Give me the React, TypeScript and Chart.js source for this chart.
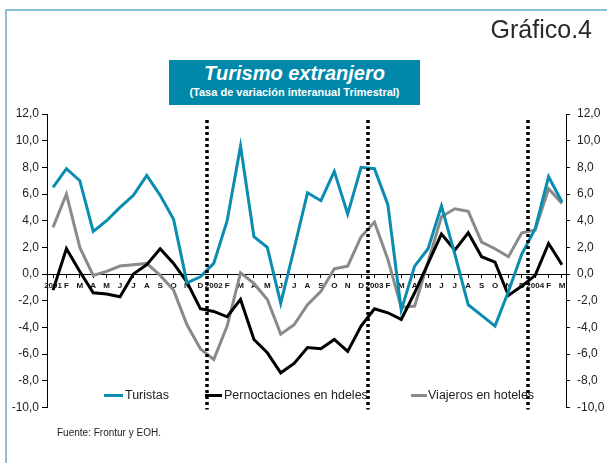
import React, { useEffect, useRef } from "react";
import { Chart, registerables } from "chart.js";

Chart.register(...registerables);

const xLabels = [
  "2001", "F", "M", "A", "M", "J", "J", "A", "S", "O", "N", "D",
  "2002", "F", "M", "A", "M", "J", "J", "A", "S", "O", "N", "D",
  "2003", "F", "M", "A", "M", "J", "J", "A", "S", "O", "N", "D",
  "2004", "F", "M",
];

const turistas = [
  6.5, 7.9, 7.0, 3.2, 4.0, 5.0, 5.9, 7.4, 5.9, 4.1, -0.65, -0.2,
  0.8, 4.0, 9.6, 2.8, 2.0, -2.2, 1.9, 6.1, 5.5, 7.7, 4.5, 8.0,
  7.9, 5.2, -2.7, 0.6, 1.9, 5.1, 1.5, -2.3, -3.1, -3.9, -1.3, 1.5,
  3.4, 7.3, 5.4,
];

const pernoctaciones = [
  -1.2, 1.9, 0.2, -1.4, -1.5, -1.7, 0.0, 0.7, 1.9, 0.8, -0.6, -2.6,
  -2.8, -3.2, -1.9, -4.9, -5.9, -7.4, -6.7, -5.5, -5.6, -4.9, -5.8, -3.9,
  -2.6, -2.9, -3.4, -1.4, 0.8, 3.0, 1.8, 3.1, 1.3, 0.9, -1.6, -0.9,
  -0.1, 2.3, 0.7,
];

const viajeros = [
  3.5, 6.0, 2.0, -0.1, 0.2, 0.6, 0.7, 0.8, -0.1, -1.2, -3.8, -5.6,
  -6.4, -3.9, 0.1, -0.7, -1.9, -4.5, -3.8, -2.3, -1.3, 0.4, 0.6, 2.8,
  3.9, 1.1, -2.5, -2.4, 0.9, 4.3, 4.9, 4.7, 2.4, 1.9, 1.3, 3.1,
  3.3, 6.4, 5.3,
];

const yearBreaks = [11.5, 23.5, 35.5];

const seriesNames = ["Turistas", "Pernoctaciones en hdeles", "Viajeros en hoteles"];
const seriesColors = ["#0a8db0", "#000000", "#8a8a8a"];

const FONT = '"Liberation Sans", Arial, Helvetica, sans-serif';

const yearBreakPlugin = {
  id: "yearBreaks",
  afterDatasetsDraw(chart: any) {
    const { ctx, chartArea, scales } = chart;
    ctx.save();
    ctx.strokeStyle = "#000";
    ctx.lineWidth = 3.5;
    ctx.setLineDash([3, 3]);
    yearBreaks.forEach((v) => {
      const x = Math.round(scales.x.getPixelForValue(v));
      ctx.beginPath();
      ctx.moveTo(x, chartArea.top + 6);
      ctx.lineTo(x, chartArea.bottom + 2);
      ctx.stroke();
    });
    ctx.restore();
  },
};

const fmt = (v: number) => v.toFixed(1).replace(".", ",");

export default function App() {
  const canvasRef = useRef<HTMLCanvasElement | null>(null);

  useEffect(() => {
    if (!canvasRef.current) return;
    const series = [turistas, pernoctaciones, viajeros];
    const chart = new Chart(canvasRef.current, {
      type: "line",
      data: {
        datasets: series.map((s, k) => ({
          label: seriesNames[k],
          data: s.map((v, i) => ({ x: i, y: v })),
          borderColor: seriesColors[k],
          backgroundColor: seriesColors[k],
          borderWidth: 3,
          pointRadius: 0,
          tension: 0,
          yAxisID: "y",
        })),
      },
      options: {
        animation: false,
        responsive: false,
        events: [],
        layout: { padding: { top: 114, bottom: 55.5, left: 0, right: 0 } },
        plugins: {
          legend: { display: false },
          title: { display: false },
          tooltip: { enabled: false },
        },
        scales: {
          x: {
            type: "linear",
            min: -0.45,
            max: 38.3,
            position: { y: 0 } as any,
            afterFit: (s: any) => {
              s.height = 0;
            },
            afterBuildTicks: (s: any) => {
              s.ticks = xLabels.map((_, i) => ({ value: i }));
            },
            ticks: {
              autoSkip: false,
              maxRotation: 0,
              minRotation: 0,
              padding: 4,
              color: "#111",
              font: { family: FONT, size: 8, weight: "bold" },
              callback: (v: any) => xLabels[Math.round(Number(v))] ?? "",
            },
            grid: {
              display: true,
              drawOnChartArea: false,
              drawTicks: true,
              tickLength: 3,
              color: "#000",
            },
            border: { display: true, color: "#000", width: 1 },
          },
          y: {
            type: "linear",
            position: "left",
            min: -10,
            max: 12,
            afterFit: (s: any) => {
              s.width = 47;
            },
            ticks: {
              stepSize: 2,
              padding: 3,
              color: "#222",
              font: { family: FONT, size: 12 },
              callback: (v: any) => fmt(Number(v)),
            },
            grid: {
              drawOnChartArea: false,
              drawTicks: true,
              tickLength: 5,
              color: "#000",
            },
            border: { display: true, color: "#000", width: 1 },
          },
          y2: {
            type: "linear",
            position: "right",
            min: -10,
            max: 12,
            afterFit: (s: any) => {
              s.width = 41;
            },
            ticks: {
              stepSize: 2,
              padding: 7,
              color: "#222",
              font: { family: FONT, size: 12 },
              callback: (v: any) => fmt(Number(v)),
            },
            grid: {
              drawOnChartArea: false,
              drawTicks: true,
              tickLength: 4,
              color: "#000",
            },
            border: { display: true, color: "#000", width: 1 },
          },
        },
      },
      plugins: [yearBreakPlugin],
    });
    return () => chart.destroy();
  }, []);

  const legendItems = [
    { seg: 104, segW: 19, text: 125 },
    { seg: 205, segW: 17, text: 224 },
    { seg: 411, segW: 16, text: 428 },
  ];

  return (
    <div
      style={{
        position: "absolute",
        left: 0,
        top: 0,
        width: 607,
        height: 463,
        overflow: "hidden",
        background: "#fff",
        fontFamily: FONT,
      }}
    >
      <div
        style={{
          position: "absolute",
          left: 5,
          top: 9,
          width: 800,
          height: 800,
          border: "2px solid #8cc0dd",
          boxSizing: "border-box",
        }}
      />
      <canvas
        ref={canvasRef}
        width={607}
        height={463}
        style={{ position: "absolute", left: 0, top: 0, width: 607, height: 463 }}
      />
      <div
        style={{
          position: "absolute",
          right: 15,
          top: 14,
          fontSize: 25,
          color: "#2a2a2a",
          lineHeight: "30px",
          whiteSpace: "nowrap",
        }}
      >
        Gráfico.4
      </div>
      <div
        style={{
          position: "absolute",
          left: 169,
          top: 60,
          width: 251,
          height: 45,
          background: "#0088aa",
          color: "#fff",
          textAlign: "center",
          whiteSpace: "nowrap",
        }}
      >
        <div
          style={{
            fontSize: 20,
            fontWeight: "bold",
            fontStyle: "italic",
            lineHeight: "22px",
            marginTop: 2,
          }}
        >
          Turismo extranjero
        </div>
        <div style={{ fontSize: 11, fontWeight: "bold", lineHeight: "14px", marginTop: 1 }}>
          (Tasa de variación interanual Trimestral)
        </div>
      </div>
      {legendItems.map((it, k) => (
        <React.Fragment key={k}>
          <div
            style={{
              position: "absolute",
              left: it.seg,
              top: 394,
              width: it.segW,
              height: 3,
              background: seriesColors[k],
            }}
          />
          <div
            style={{
              position: "absolute",
              left: it.text,
              top: 387,
              fontSize: 12.5,
              lineHeight: "16px",
              color: "#222",
              whiteSpace: "nowrap",
            }}
          >
            {seriesNames[k]}
          </div>
        </React.Fragment>
      ))}
      <div
        style={{
          position: "absolute",
          left: 57,
          top: 427,
          fontSize: 10,
          lineHeight: "12px",
          color: "#222",
          whiteSpace: "nowrap",
        }}
      >
        Fuente: Frontur y EOH.
      </div>
    </div>
  );
}
